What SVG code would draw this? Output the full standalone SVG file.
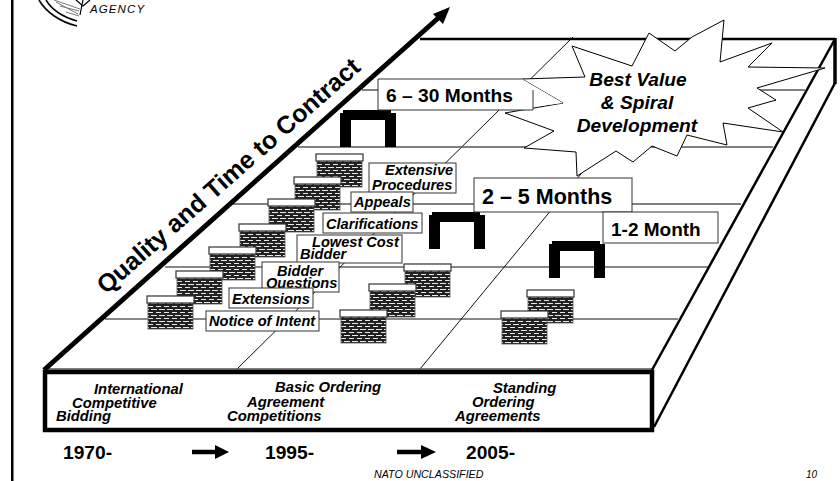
<svg xmlns="http://www.w3.org/2000/svg" width="840" height="481" viewBox="0 0 840 481">
<style>
text{font-family:"Liberation Sans",Arial,sans-serif;fill:#000}
.bi{font-weight:bold;font-style:italic}
.b{font-weight:bold}
.l13{font-size:14.6px}
.l14{font-size:14.8px}
.grid{stroke:#111;stroke-width:1;fill:none}
.gray{stroke:#555;stroke-width:1.4;fill:none}
.lab{fill:#fff;stroke:#333;stroke-width:1}
.cap{fill:#fff;stroke:#333;stroke-width:1.2}
.body{fill:url(#brick);stroke:#555;stroke-width:.8}
.stp{fill:#000}
</style>
<defs>
<pattern id="brick" width="8" height="6" patternUnits="userSpaceOnUse">
<rect width="8" height="6" fill="#222"/>
<path d="M0 1.5H2M4 1.5H8M1 4.5H6" stroke="#fff" stroke-width=".9"/>
</pattern>
<g id="bk"><rect class="body" x="1" y="7" width="45" height="26"/><rect class="cap" x="0" y="0" width="47" height="7"/></g>
<g id="st1"><path class="stp" d="M3 0H51V3H56V37H45V10H11V37H0V3H3Z"/></g>
</defs>
<rect id="frame" x="11" y="-2" width="2.5" height="490" fill="#000"/>
<g id="logo" fill="none" stroke="#000">
<path d="M39 0C46 12 60 22 77 26" stroke-width="1.6"/>
<path d="M46 0C52 10 63 17 77 21" stroke-width="1.6"/>
<path d="M56 2L78 14M60 6L79 11M66 12L79 16M54 0L80 9" stroke="#777" stroke-width="1"/>
<path d="M80 15L83 0M83 6L90 0M76 0L83 6" stroke-width="1.2"/>
<text x="90" y="13" font-size="11.5" font-style="italic" letter-spacing="1.1" stroke="none" fill="#000">AGENCY</text>
</g>
<g id="connectors">
<path class="grid" d="M105 319H678M165 267H708M237 369L573 37M420 369L694 37"/>
<path class="gray" d="M233 204H741M298 147H773M362 90H805M48 369H652"/>
<path d="M44 370L445 12" stroke="#000" stroke-width="5" fill="none"/>
<path d="M450 7L443 24L436 17L433 14Z" fill="#000"/>
<path d="M420 39H835" stroke="#000" stroke-width="2.5"/>
<path d="M652 370L835 39" stroke="#000" stroke-width="2.5" fill="none"/>
<path d="M654 427L835 83" stroke="#000" stroke-width="2.5" fill="none"/>
<path d="M835 38V84" stroke="#000" stroke-width="3.5"/>
<path d="M192 452H218" stroke="#000" stroke-width="4.5"/>
<path d="M215 445L229 452L215 459Z" fill="#000"/>
<path d="M397 452H424" stroke="#000" stroke-width="4.5"/>
<path d="M421 445L436 452L421 459Z" fill="#000"/>
</g>
<g id="front-box">
<rect x="45" y="372" width="607" height="58" fill="#fff" stroke="#000" stroke-width="4.5"/>
<text class="bi l14" x="94" y="394">International</text>
<text class="bi l14" x="72" y="408">Competitive</text>
<text class="bi l14" x="56" y="421">Bidding</text>
<text class="bi l14" x="275" y="392">Basic Ordering</text>
<text class="bi l14" x="247" y="407">Agreement</text>
<text class="bi l14" x="227" y="421">Competitions</text>
<text class="bi l14" x="493" y="393">Standing</text>
<text class="bi l14" x="472" y="407">Ordering</text>
<text class="bi l14" x="455" y="421">Agreements</text>
</g>
<g id="bricks-a">
<use href="#bk" x="316" y="154"/><use href="#bk" x="294" y="177"/><use href="#bk" x="268" y="199"/><use href="#bk" x="239" y="224"/><use href="#bk" x="209" y="247"/><use href="#bk" x="176" y="271"/><use href="#bk" x="147" y="296"/>
</g>
<g id="bricks-b"><use href="#bk" x="404" y="264"/><use href="#bk" x="369" y="284"/><use href="#bk" x="340" y="310"/></g>
<g id="bricks-c"><use href="#bk" x="527" y="290"/><use href="#bk" x="501" y="311"/></g>
<g id="staples"><use href="#st1" x="340" y="110"/><use href="#st1" x="429" y="212"/><use href="#st1" x="549" y="241"/></g>
<g id="burst">
<polygon points="572,46 632,66 649,33 675,51 692,37 724,20 720,62 772,43 748,67 825,68 757,88 776,100 748,108 783,132 723,123 727,145 687,135 677,156 652,146 633,162 616,151 577,176 576,152 524,148 554,131 505,113 563,103 522,79 585,77" fill="#fff" stroke="#000" stroke-width="1"/>
<text class="bi" font-size="19.2" text-anchor="middle" x="638" y="86">Best Value</text>
<text class="bi" font-size="19.2" text-anchor="middle" x="637" y="109">&amp; Spiral</text>
<text class="bi" font-size="19.2" text-anchor="middle" x="637" y="132">Development</text>
</g>
<g id="time-6-30"><path d="M378 79H522L563 103L533 107V110H378Z" fill="#fff"/><path d="M522 79H378V110H533V90" fill="none" stroke="#333"/><text class="b" font-size="19.2" x="386" y="102">6 – 30 Months</text></g>
<g id="time-2-5"><rect class="lab" x="474" y="178" width="158" height="34"/><text class="b" font-size="21.5" x="482" y="204">2 – 5 Months</text></g>
<g id="time-1-2"><rect class="lab" x="603" y="212" width="115" height="31"/><text class="b" font-size="19" x="611" y="236">1-2 Month</text></g>
<g id="l-extensive"><rect class="lab" x="369" y="163" width="87" height="30"/><text class="bi l13" x="385" y="175">Extensive</text><text class="bi l13" x="372" y="190">Procedures</text></g>
<g id="l-appeals"><rect class="lab" x="351" y="192" width="62" height="20"/><text class="bi l13" x="354" y="207">Appeals</text></g>
<g id="l-clar"><rect class="lab" x="323" y="213" width="99" height="20"/><text class="bi l13" x="326" y="229">Clarifications</text></g>
<g id="l-lowest"><rect class="lab" x="297" y="235" width="105" height="28"/><text class="bi l13" x="312" y="247">Lowest Cost</text><text class="bi l13" x="300" y="259">Bidder</text></g>
<g id="l-bidder"><rect class="lab" x="262" y="262" width="77" height="30"/><text class="bi l13" x="277" y="276">Bidder</text><text class="bi l13" x="266" y="288">Questions</text></g>
<g id="l-ext"><rect class="lab" x="229" y="288" width="84" height="20"/><text class="bi l13" x="232" y="304">Extensions</text></g>
<g id="l-notice"><rect class="lab" x="206" y="311" width="113" height="20"/><text class="bi l13" x="209" y="326">Notice of Intent</text></g>
<text id="axis-label" class="b" font-size="25" transform="translate(106 295) rotate(-41.4)">Quality and Time to Contract</text>
<g id="years">
<text class="b" font-size="19.2" x="63" y="459">1970-</text>
<text class="b" font-size="19.2" x="265" y="459">1995-</text>
<text class="b" font-size="19.2" x="466" y="459">2005-</text>
</g>
<text id="footer" font-size="10.7" font-style="italic" x="374" y="478">NATO UNCLASSIFIED</text>
<text id="page" font-size="10" font-style="italic" x="806" y="478">10</text>
</svg>
